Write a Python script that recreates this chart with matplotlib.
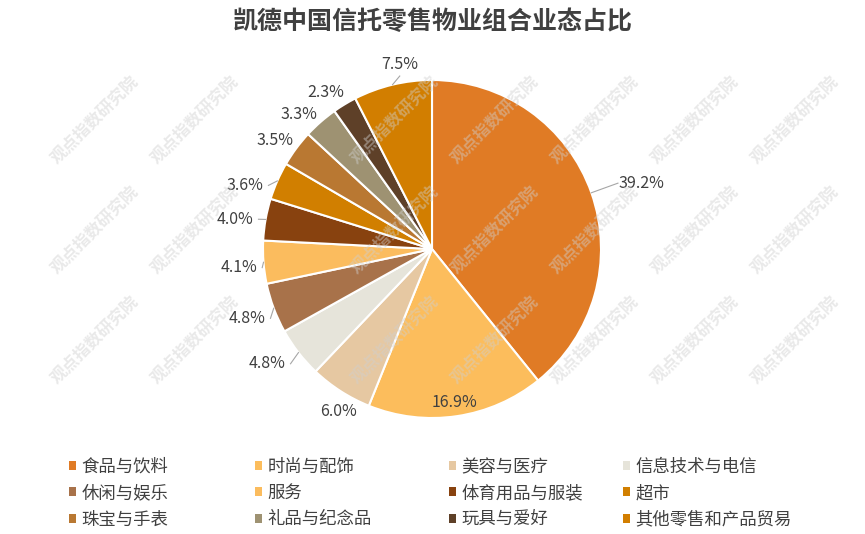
import numpy as np
import matplotlib.pyplot as plt
from matplotlib.patches import Patch

plt.rcParams['font.family'] = ['Noto Sans CJK SC', 'DejaVu Sans']

categories = ['食品与饮料', '时尚与配饰', '美容与医疗', '信息技术与电信', '休闲与娱乐', '服务',
              '体育用品与服装', '超市', '珠宝与手表', '礼品与纪念品', '玩具与爱好', '其他零售和产品贸易']
values = [39.2, 16.9, 6.0, 4.8, 4.8, 4.1, 4.0, 3.6, 3.5, 3.3, 2.3, 7.5]
colors = ['#E07B25', '#FCBD5C', '#E6C8A2', '#E6E4DA', '#A8724A', '#FBBC5E',
          '#88420F', '#D17F00', '#B97832', '#9E9272', '#5E4028', '#D27E00']
# label placement: distance from centre (radii) and angle shift (deg) per slice
label_r = [1.30, 0.92, 1.11, 1.19, 1.17, 1.15, 1.18, 1.17, 1.13, 1.12, 1.12, 1.11]
label_shift = [-2, 0, 3, -3, 0, 1, 1.5, 5, 2, 3.5, 3, -3.6]
leader = [True, False, False, True, True, True, True, True, False, False, False, True]

fig = plt.figure(figsize=(8.65, 5.34), dpi=100)
W, H = 865, 534
cx, cy, R = 432, 249, 169
ax = fig.add_axes([(cx - R) / W, (H - cy - R) / H, 2 * R / W, 2 * R / H])

wedges, _ = ax.pie(values, colors=colors, startangle=90, counterclock=False, radius=1,
                   wedgeprops=dict(edgecolor='white', linewidth=1.5))
ax.set_xlim(-1, 1)
ax.set_ylim(-1, 1)
ax.set_aspect('equal')
ax.axis('off')

for w, v, r, s, ld in zip(wedges, values, label_r, label_shift, leader):
    mid = np.deg2rad((w.theta1 + w.theta2) / 2)
    ang = mid + np.deg2rad(s)
    x, y = r * np.cos(ang), r * np.sin(ang)
    ax.text(x, y, '{:.1f}%'.format(v), ha='center', va='center', fontsize=11.5,
            color='#404040', clip_on=False)
    if ld:
        # short grey connector from wedge rim towards the label
        side = np.sign(np.cos(ang))
        ex = x - side * 0.14 if abs(np.cos(ang)) > 0.3 else x
        ey = y if abs(np.cos(ang)) > 0.3 else y - 0.07
        ax.plot([1.0 * np.cos(mid), ex], [1.0 * np.sin(mid), ey],
                color='#a6a6a6', lw=0.8, clip_on=False)

fig.text(0.5, 1 - 22 / H, '凯德中国信托零售物业组合业态占比', ha='center', va='center',
         fontsize=18, fontweight='bold', color='#404040')

# watermark
for yy in [120, 230, 340]:
    for xx in [95, 195, 395, 495, 595, 695, 795]:
        fig.text(xx / W, 1 - yy / H, '观点指数研究院', rotation=45, ha='center', va='center',
                 fontsize=12, color='#cfcfcf', alpha=0.45, fontweight='bold', zorder=10)

# legend, one column per block
col_x = [69, 255, 449, 623]
for c in range(4):
    idx = [c, c + 4, c + 8]
    handles = [Patch(facecolor=colors[i], edgecolor='none') for i in idx]
    fig.legend(handles, [categories[i] for i in idx], loc='upper left',
               bbox_to_anchor=(col_x[c] / W, 1 - 458 / H), frameon=False,
               fontsize=12.5, handlelength=0.42, handleheight=0.42, handletextpad=0.3,
               labelspacing=0.47, borderpad=0, borderaxespad=0, labelcolor='#404040')

fig.savefig('out.png', dpi=100)
